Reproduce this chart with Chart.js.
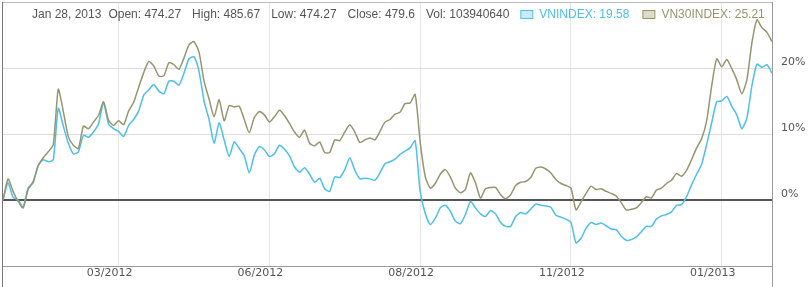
<!DOCTYPE html>
<html>
<head>
<meta charset="utf-8">
<script src="https://cdn.jsdelivr.net/npm/chart.js@4.4.0/dist/chart.umd.min.js"></script>
<style>
html, body { margin: 0; padding: 0; background: #fff; }
#wrap { width: 809px; height: 287px; }
</style>
</head>
<body>
<div id="wrap"><canvas id="perf" width="809" height="287"></canvas></div>
<script>
// % change since start of period, one value per sampled session
var vnIndex = [
  0, 2.6, 0.4, 0, -1.1, 1.8, 2.6, 5.2, 6.1, 5.8,
  6.1, 13.9, 11.2, 8.6, 7.0, 7.3, 9.8, 9.5, 10.3, 11.5,
  14.8, 11.5, 10.8, 10.4, 9.6, 11.3, 12.2, 13.5, 15.9, 16.7,
  17.5, 16.5, 16.1, 18.0, 18.0, 17.4, 19.2, 21.4, 21.7, 19.5,
  15.0, 12.2, 8.6, 11.7, 9.1, 6.6, 8.8, 7.8, 6.7, 4.1,
  6.8, 8.1, 7.6, 6.6, 7.0, 8.3, 7.7, 6.7, 5.0, 4.2,
  4.9, 3.9, 2.7, 3.3, 1.7, 1.3, 3.5, 3.4, 4.6, 6.4,
  4.5, 3.2, 3.3, 3.2, 3.0, 4.1, 5.5, 5.8, 6.2, 6.9,
  7.4, 7.9, 9.0, 1.3, -2.0, -3.7, -2.8, -1.2, -0.8, -1.7,
  -3.2, -3.6, -2.2, -0.2, -1.2, -2.1, -2.5, -1.6, -2.1, -3.4,
  -4.0, -4.0, -2.5, -1.9, -2.1, -1.4, -0.6, -0.8, -0.9, -1.1,
  -2.3, -2.6, -2.9, -3.4, -6.5, -5.8, -4.3, -3.4, -3.7, -3.5,
  -3.9, -4.4, -4.5, -5.5, -6.1, -6.0, -5.6, -4.8, -4.0, -4.0,
  -2.9, -2.4, -2.2, -1.8, -0.8, -0.7, 0.5, 2.3, 3.9, 5.4,
  8.4, 11.7, 14.9, 15.0, 15.7, 14.2, 12.9, 10.8, 12.4, 17.3,
  20.6, 20.1, 20.5, 19.2
];
var vn30Index = [
  0, 3.2, 1.3, -0.2, -1.2, 1.6, 2.8, 5.2, 6.4, 7.3,
  8.4, 16.8, 13.4, 9.6, 8.3, 7.8, 11.2, 10.8, 11.8, 12.8,
  14.9, 12.1, 11.3, 12.0, 11.4, 13.5, 14.8, 17.1, 19.3, 21.0,
  20.3, 18.8, 18.8, 20.8, 20.5, 19.8, 21.5, 23.5, 24.0, 22.4,
  18.0, 15.3, 12.6, 15.2, 12.0, 14.3, 14.1, 14.2, 12.2, 10.2,
  12.5, 13.4, 12.9, 11.8, 12.6, 13.6, 12.8, 11.6, 10.3, 9.5,
  10.6, 8.6, 8.2, 8.8, 7.2, 7.2, 9.1, 9.0, 10.3, 11.4,
  10.3, 8.7, 9.1, 9.4, 9.1, 10.4, 11.8, 12.2, 13.0, 13.3,
  14.6, 14.7, 16.0, 8.8, 3.6, 1.8, 2.5, 3.9, 4.6, 3.5,
  1.8, 1.1, 1.6, 4.1, 2.6, 0.3, 1.7, 1.9, 1.9, 0.8,
  0.2, 0.8, 2.2, 2.7, 2.8, 3.4, 4.8, 5.0, 4.7, 4.1,
  3.1, 2.5, 2.2, 1.8, -1.5, -0.3, 1.0, 2.1, 1.6, 1.7,
  1.3, 1.0, 0.6, -0.4, -1.5, -1.4, -1.2, -0.4, 0.5, 0.3,
  1.5, 1.8, 2.5, 3.0, 4.0, 3.6, 4.5, 6.1, 7.9, 9.3,
  12.0, 17.3, 21.4, 20.2, 21.3, 19.9, 18.2, 16.1, 18.2, 23.8,
  27.3, 26.1, 25.4, 24.0
];
var tickIdx = [23, 53, 83, 113, 143];
var tickLabels = ['03/2012', '06/2012', '08/2012', '11/2012', '01/2013'];
var yShown = [0, 10, 20];
var headerDate = 'Jan 28, 2013';
var headerStats = ['Open: 474.27', 'High: 485.67', 'Low: 474.27', 'Close: 479.6', 'Vol: 103940640'];
var seriesNames = ['VNINDEX', 'VN30INDEX'];
var lastValues = [19.58, 25.21];
var lineColors = ['#4dbfea', '#959670'];
var boxFills = ['#cbeaf7', '#dcdcc8'];

function toPoints(arr) {
  return arr.map(function (v, i) { return { x: i, y: v }; });
}

var frame = {
  id: 'frame',
  beforeDatasetsDraw: function (chart) {
    var c = chart.ctx;
    c.save();
    c.font = '12px "Liberation Sans", Arial, sans-serif';
    c.textBaseline = 'middle';
    var x = 32, y = 15;
    c.fillStyle = '#555';
    [headerDate].concat(headerStats).forEach(function (t, i) {
      c.fillText(t, x, y);
      x += c.measureText(t).width + (i === 0 ? 7 : 11);
    });
    seriesNames.forEach(function (n, i) {
      c.fillStyle = boxFills[i];
      c.fillRect(x + 0.5, y - 4.5, 12, 8);
      c.strokeStyle = lineColors[i];
      c.lineWidth = 1;
      c.strokeRect(x + 0.5, y - 4.5, 12, 8);
      x += 19;
      var t = n + ': ' + lastValues[i];
      c.fillStyle = lineColors[i];
      c.fillText(t, x, y);
      x += c.measureText(t).width + 13;
    });
    c.restore();
  },
  afterDraw: function (chart) {
    var a = chart.chartArea, c = chart.ctx;
    c.save();
    c.lineWidth = 1;
    c.strokeStyle = '#bbb';
    c.beginPath();
    c.moveTo(a.left, a.top + 0.5); c.lineTo(a.right, a.top + 0.5);
    c.stroke();
    c.strokeStyle = '#999';
    c.beginPath();
    c.moveTo(a.right + 0.5, a.top); c.lineTo(a.right + 0.5, chart.height);
    c.moveTo(a.left, a.bottom + 0.5); c.lineTo(a.right, a.bottom + 0.5);
    c.stroke();
    c.strokeStyle = '#777';
    c.beginPath();
    c.moveTo(a.left - 0.5, a.top); c.lineTo(a.left - 0.5, chart.height);
    c.stroke();
    c.restore();
  }
};

new Chart(document.getElementById('perf').getContext('2d'), {
  type: 'line',
  data: {
    datasets: [{
      label: seriesNames[0],
      data: toPoints(vnIndex),
      borderColor: lineColors[0],
      borderWidth: 1.5,
      pointRadius: 0,
      tension: 0.2,
      order: 2
    }, {
      label: seriesNames[1],
      data: toPoints(vn30Index),
      borderColor: lineColors[1],
      borderWidth: 1.5,
      pointRadius: 0,
      tension: 0.2,
      order: 1
    }]
  },
  options: {
    responsive: false,
    animation: false,
    devicePixelRatio: 1,
    layout: { padding: { top: 2, left: 3, right: 0, bottom: 0 } },
    plugins: { legend: { display: false }, tooltip: { enabled: false } },
    scales: {
      x: {
        type: 'linear',
        min: 0,
        max: vnIndex.length - 1,
        afterBuildTicks: function (s) { s.ticks = tickIdx.map(function (v) { return { value: v }; }); },
        afterFit: function (s) { s.height = 21; s.paddingLeft = 0; s.paddingRight = 0; },
        border: { display: false },
        grid: { color: '#e6e6e6', drawTicks: false },
        ticks: {
          autoSkip: false,
          maxRotation: 0,
          padding: 1,
          labelOffset: -9,
          color: '#555',
          font: { family: '"DejaVu Sans", Verdana, sans-serif', size: 11 },
          callback: function (v) { return tickLabels[tickIdx.indexOf(v)]; }
        }
      },
      y: {
        position: 'right',
        min: -10,
        max: 30,
        afterFit: function (s) { s.width = 37; s.paddingTop = 0; s.paddingBottom = 0; },
        border: { display: false },
        grid: {
          drawTicks: false,
          color: function (ctx) { return ctx.tick.value === 0 ? '#555' : '#ddd'; },
          lineWidth: function (ctx) { return ctx.tick.value === 0 ? 2 : 1; }
        },
        ticks: {
          stepSize: 10,
          padding: 9,
          labelOffset: -6,
          color: '#555',
          font: { family: '"DejaVu Sans", Verdana, sans-serif', size: 11 },
          callback: function (v) { return yShown.indexOf(v) >= 0 ? v + '%' : ''; }
        }
      }
    }
  },
  plugins: [frame]
});
</script>
</body>
</html>
